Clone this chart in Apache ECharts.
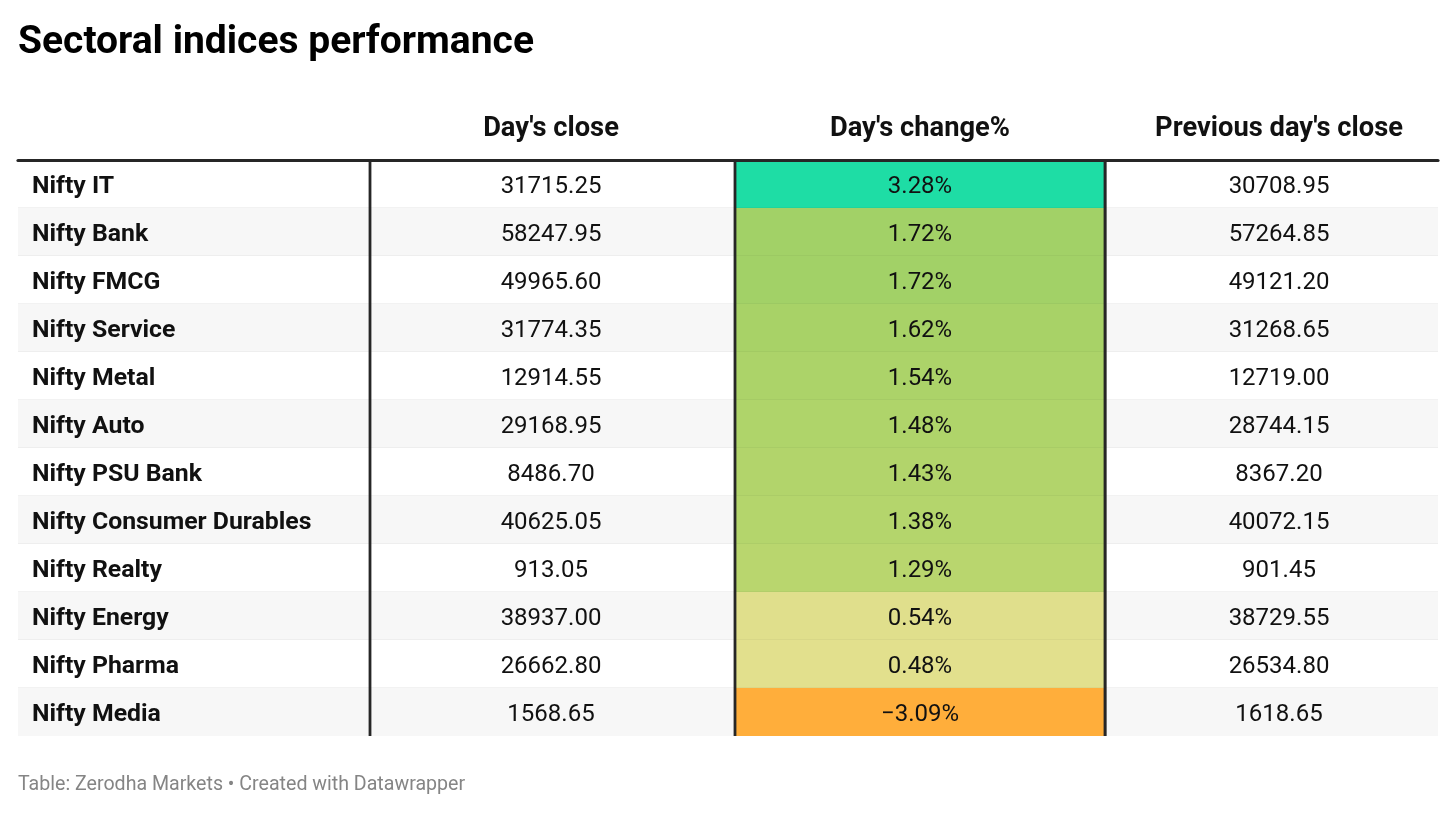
<!DOCTYPE html>
<html lang="en">
<head>
    <meta charset="UTF-8">
    <title>Sectoral indices performance</title>
    <script src="https://cdn.jsdelivr.net/npm/echarts@6/dist/echarts.min.js"></script>
    <style>
        html, body { margin: 0; padding: 0; background: #fff; }
        #main { width: 1456px; height: 813px; }
    </style>
</head>
<body>
<div id="main"></div>
<script>
// data
var indices = ['Nifty IT', 'Nifty Bank', 'Nifty FMCG', 'Nifty Service', 'Nifty Metal', 'Nifty Auto',
    'Nifty PSU Bank', 'Nifty Consumer Durables', 'Nifty Realty', 'Nifty Energy', 'Nifty Pharma', 'Nifty Media'];
var dayClose = ['31715.25', '58247.95', '49965.60', '31774.35', '12914.55', '29168.95',
    '8486.70', '40625.05', '913.05', '38937.00', '26662.80', '1568.65'];
var dayChange = [3.28, 1.72, 1.72, 1.62, 1.54, 1.48, 1.43, 1.38, 1.29, 0.54, 0.48, -3.09];
var prevClose = ['30708.95', '57264.85', '49121.20', '31268.65', '12719.00', '28744.15',
    '8367.20', '40072.15', '901.45', '38729.55', '26534.80', '1618.65'];
var headers = ['', "Day's close", "Day's change%", "Previous day's close"];

// layout: column edges along the (hidden) x axis, and text anchor per column
var colEdges = [0, 352, 717, 1087, 1420];
var colText = [14, 533, 902, 1261];
var FONT = 'Roboto, "Noto Sans", sans-serif';

var textCells = [];
indices.forEach(function (name, i) {
    textCells.push([0, i, name]);
    textCells.push([1, i, dayClose[i]]);
    textCells.push([3, i, prevClose[i]]);
});
var changeCells = dayChange.map(function (v, i) { return [2, i, v]; });

function fmtPct(v) {
    return (v < 0 ? '\u2212' : '') + Math.abs(v).toFixed(2) + '%';
}

function cellItem(params, api, fill, text, sepColor) {
    var col = api.value(0), row = api.value(1);
    var x0 = api.coord([colEdges[col], row])[0];
    var x1 = api.coord([colEdges[col + 1], row])[0];
    var yc = api.coord([0, row])[1];
    var h = api.size([0, 1])[1];
    var y0 = yc - h / 2;
    var children = [{
        type: 'rect',
        shape: { x: x0, y: y0, width: x1 - x0, height: h },
        style: { fill: fill }
    }];
    if (row < indices.length - 1) {
        children.push({
            type: 'rect',
            shape: { x: x0, y: y0 + h - 0.5, width: x1 - x0, height: 1.5 },
            style: { fill: sepColor }
        });
    }
    var bold = col === 0;
    children.push({
        type: 'text',
        style: {
            x: api.coord([colText[col], row])[0],
            y: yc + 2.5,
            text: text,
            fill: '#111',
            font: (bold ? 'bold 24.8px ' : '24px ') + FONT,
            align: col === 0 ? 'left' : 'center',
            verticalAlign: 'middle'
        }
    });
    if (col > 0) {
        children.push({
            type: 'rect',
            shape: { x: x0 - 1.4, y: y0, width: 2.8, height: h },
            style: { fill: '#262626' }
        });
    }
    if (col === 2) {
        children.push({
            type: 'rect',
            shape: { x: x1 - 1.4, y: y0, width: 2.8, height: h },
            style: { fill: '#262626' }
        });
    }
    return { type: 'group', children: children };
}

var myChart = echarts.init(document.getElementById('main'));

var option = {
    backgroundColor: '#fff',
    animation: false,
    title: [{
        text: 'Sectoral indices performance',
        left: 18,
        top: 24,
        padding: 0,
        textStyle: { fontFamily: FONT, fontSize: 39, fontWeight: 'bold', color: '#000' }
    }, {
        text: 'Table: Zerodha Markets \u2022 Created with Datawrapper',
        left: 18,
        top: 775,
        padding: 0,
        textStyle: { fontFamily: FONT, fontSize: 19.6, fontWeight: 'normal', color: '#858585' }
    }],
    grid: { left: 18, right: 18, top: 160, bottom: 77 },
    xAxis: {
        type: 'value',
        min: colEdges[0],
        max: colEdges[colEdges.length - 1],
        position: 'top',
        z: 10,
        axisLine: { show: true, lineStyle: { color: '#262626', width: 3.2 } },
        axisTick: { show: false },
        axisLabel: { show: false },
        splitLine: { show: false }
    },
    yAxis: {
        type: 'category',
        data: indices,
        inverse: true,
        show: false
    },
    visualMap: {
        show: false,
        type: 'continuous',
        seriesIndex: 1,
        dimension: 2,
        min: -3.09,
        max: 3.28,
        inRange: {
            color: ['#ffae3b', '#fdb543', '#fbbd4b', '#f8c454', '#f5cb5c', '#f2d165', '#eed66e',
                '#ebda76', '#e8dd7e', '#e6df86', '#e4e08b', '#e3e08e', '#dcde88', '#c4d976',
                '#b5d56c', '#a4d166', '#8ed36e', '#72d67c', '#55d98b', '#38db98', '#1edda5']
        }
    },
    graphic: headers.map(function (t, j) {
        return {
            type: 'text',
            x: 18 + colText[j],
            y: 129,
            style: {
                text: t,
                fill: '#111',
                font: 'bold 27.3px ' + FONT,
                align: 'center',
                verticalAlign: 'middle'
            }
        };
    }),
    series: [{
        type: 'custom',
        name: 'cells',
        data: textCells,
        renderItem: function (params, api) {
            var row = api.value(1);
            var fill = row % 2 === 1 ? '#f7f7f7' : '#ffffff';
            return cellItem(params, api, fill, textCells[params.dataIndex][2], '#e6e6e6');
        }
    }, {
        type: 'custom',
        name: "Day's change%",
        data: changeCells,
        renderItem: function (params, api) {
            return cellItem(params, api, api.visual('color'), fmtPct(api.value(2)), 'rgba(0,0,0,0.07)');
        }
    }]
};

myChart.setOption(option);
</script>
</body>
</html>
